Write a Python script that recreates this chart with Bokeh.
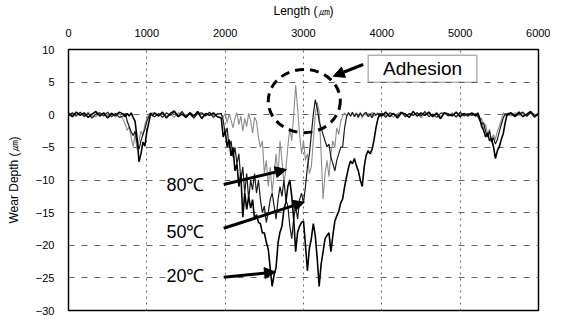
from bokeh.plotting import figure
from bokeh.models import Arrow, NormalHead, Label, BoxAnnotation, FixedTicker
from bokeh.embed import file_html
from bokeh.resources import INLINE

# ---------------- data ----------------
# sampling positions (µm), segment by segment
xA = list(range(0, 700, 50))
xB = list(range(700, 1100, 25))
xC = list(range(1100, 1950, 50))
xD = list(range(1950, 4000, 25))
xE = list(range(4000, 5200, 50))
xF = list(range(5200, 5625, 25))
xG = list(range(5650, 6001, 50))

# 20 C profile (deepest, black)
y20_A = [0.2, -0.3, 0.4, -0.1, 0.3, -0.4, 0.1, 0.5, -0.2, 0.3, -0.5, 0.2, -0.1, 0.4]
y20_B = [0.1, -0.3, 0.2, -0.2, 0.3, -0.4, -1.0, -3.5, -7.2, -6.0, -4.2, -4.8, -2.6, -1.2, 0.2, -0.1]
y20_C = [0.3, -0.2, 0.4, -0.5, 0.2, 0.6, -0.3, 0.1, -0.4, 0.3, -0.2, 0.5, -0.6, 0.2, -0.1, 0.3, -0.3]
y20_D = [-0.5, -3.4, -2.5, -4.9, -3.8, -6.3, -5.0, -8.6, -7.5, -11.0,
         -9.0, -15.7, -12.0, -14.5, -12.5, -14.3, -13.0, -16.0, -15.3, -16.5,
         -16.7, -18.1, -18.1, -19.5, -20.6, -23.5, -26.3, -24.5, -23.4, -19.6,
         -18.0, -17.1, -14.5, -13.4, -11.0, -10.0, -12.5, -16.0, -21.0, -18.0,
         -17.1, -16.5, -16.3, -20.0, -23.9, -20.5, -19.0, -16.7, -18.5, -22.0,
         -26.3, -22.9, -21.0, -19.0, -18.5, -18.1, -21.0, -18.5, -16.3, -15.5,
         -14.8, -13.5, -12.9, -11.0, -9.5, -8.1, -7.1, -7.5, -6.7, -7.8,
         -8.6, -10.0, -11.0, -8.0, -6.2, -5.5, -6.0, -5.3, -3.9, -2.0,
         -0.6, 0.2]
y20_E = [-0.2, 0.4, -0.3, 0.2, -0.5, 0.3, 0.1, -0.4, 0.5, -0.2, 0.3, -0.1,
         0.4, -0.3, 0.2, -0.6, 0.3, 0.1, -0.2, 0.4, -0.3, 0.2, -0.1, 0.3]
y20_F = [-0.2, 0.3, -0.5, -1.8, -2.4, -3.4, -2.8, -4.0, -3.6, -4.9, -6.7, -5.5, -4.9, -3.8, -2.9, -1.2, 0.1]
y20_G = [0.3, -0.2, 0.4, -0.3, 0.1, 0.5, -0.2, 0.2]

# 50 C profile (black, thinner)
y50_A = [-0.2, 0.3, -0.1, 0.4, -0.3, 0.2, -0.5, 0.1, 0.3, -0.2, 0.4, -0.3, 0.2, -0.4]
y50_B = [-0.2, 0.2, -1.0, -1.8, -2.6, -3.2, -2.5, -4.2, -5.3, -4.0, -3.0, -2.2, -1.0, -0.3, 0.3, -0.2]
y50_C = [-0.3, 0.2, -0.4, 0.3, -0.1, 0.4, -0.2, 0.5, -0.3, 0.1, -0.5, 0.2, 0.3, -0.2, 0.4, -0.4, 0.1]
y50_D = [0.2, -0.8, -3.0, -2.0, -5.0, -4.0, -6.5, -5.0, -7.5, -6.0,
         -10.0, -8.0, -12.0, -9.0, -13.0, -10.0, -11.5, -9.0, -12.0, -10.0,
         -13.0, -15.0, -14.0, -16.5, -15.0, -13.0, -12.0, -14.0, -16.0, -13.0,
         -11.0, -12.5, -10.0, -13.0, -14.0, -17.0, -19.0, -16.0, -14.0, -16.0,
         -13.0, -12.0, -13.5, -11.0, -8.0, -6.0, -3.0, 0.0, 2.3, 1.0,
         -1.0, -2.0, -3.0, -4.0, -4.9, -4.5, -6.5, -7.5, -8.6, -7.0,
         -6.0, -5.0, -4.9, -2.0, -0.3, 0.3, -0.2, 0.4, -0.3, 0.2,
         -0.4, 0.3, -0.2, 0.1, 0.4, -0.3, 0.2, -0.5, 0.3, -0.1,
         0.2, -0.3]
y50_E = [0.2, -0.4, 0.3, 0.1, -0.2, 0.4, -0.3, 0.2, -0.1, 0.3, -0.2, 0.5,
         -0.3, 0.1, -0.4, 0.2, 0.3, -0.2, 0.1, -0.3, 0.4, -0.2, 0.2, -0.1]
y50_F = [0.1, -0.2, -0.8, -1.5, -1.2, -2.6, -3.4, -2.5, -4.2, -3.5, -4.5, -3.8, -2.6, -1.5, -0.5, 0.2, -0.1]
y50_G = [0.2, -0.3, 0.1, 0.4, -0.2, 0.3, -0.4, 0.1]

# 80 C profile (grey, shows adhesion peaks)
y80_A = [0.1, 0.2, -0.3, 0.3, -0.2, 0.4, -0.1, -0.3, 0.2, 0.1, -0.2, 0.3, -0.4, 0.2]
y80_B = [-0.8, -1.5, -2.4, -1.8, -3.5, -4.9, -3.0, -5.3, -4.0, -2.5, -3.2, -1.5, -0.6, 0.2, -0.1, 0.3]
y80_C = [0.2, -0.1, 0.3, -0.2, 0.1, -0.4, 0.3, 0.2, -0.3, 0.4, -0.1, 0.2, -0.5, 0.1, 0.3, -0.2, 0.2]
y80_D = [0.1, -0.4, 0.2, -1.2, 0.1, -0.8, -2.0, -0.5, 0.3, -1.5,
         -0.2, -2.5, -0.6, -1.8, 0.2, -0.9, -2.8, -0.4, -1.0, -3.5,
         -5.0, -4.0, -9.0, -7.0, -11.0, -8.0, -12.0, -9.0, -6.0, -9.5,
         -4.0, -7.0, -10.5, -8.4, -5.0, -2.0, -4.0, 0.0, 4.5, 1.0,
         -3.0, -6.0, -4.0, -7.0, -6.0, -9.0, -8.0, -4.0, 0.0, 1.9,
         0.5, -6.0, -12.9, -9.0, -7.0, -9.5, -6.0, -4.0, -5.0, -2.0,
         -3.0, -1.0, -0.2, 0.3, -0.2, 0.4, -0.3, 0.2, -0.1, 0.3,
         -0.4, 0.2, -0.5, 0.3, -0.1, 0.2, -0.3, 0.4, -0.2, 0.1,
         0.3, -0.2]
y80_E = [0.3, -0.2, 0.1, -0.4, 0.2, 0.4, -0.3, 0.2, -0.1, 0.3, -0.5, 0.2,
         0.1, -0.2, 0.4, -0.3, 0.2, -0.1, 0.3, -0.4, 0.2, 0.1, -0.3, 0.2]
y80_F = [0.2, -0.3, -1.0, -0.5, -2.2, -1.5, -3.0, -2.2, -4.0, -3.0, -3.8, -2.5, -1.8, -0.8, 0.3, -0.2, 0.2]
y80_G = [-0.2, 0.3, -0.1, 0.2, -0.3, 0.4, 0.1, -0.2]

x_ticks = [0, 1000, 2000, 3000, 4000, 5000, 6000]
y_ticks = [10, 5, 0, -5, -10, -15, -20, -25, -30]
temp_labels = ["80℃", "50℃", "20℃"]
adhesion_label = "Adhesion"

X = xA + xB + xC + xD + xE + xF + xG
Y20 = y20_A + y20_B + y20_C + y20_D + y20_E + y20_F + y20_G
Y50 = y50_A + y50_B + y50_C + y50_D + y50_E + y50_F + y50_G
Y80 = y80_A + y80_B + y80_C + y80_D + y80_E + y80_F + y80_G
assert len(X) == len(Y20) == len(Y50) == len(Y80), (len(X), len(Y20), len(Y50), len(Y80))

FONT = "Liberation Sans"

p = figure(width=550, height=319, x_range=(0, 6000), y_range=(-30, 10),
           x_axis_location="above", output_backend="svg", toolbar_location=None,
           min_border_left=68, min_border_right=12, min_border_top=44, min_border_bottom=9)
p.background_fill_color = "white"
p.border_fill_color = "white"
p.outline_line_color = "black"
p.outline_line_width = 1.5

# grid
p.xaxis.ticker = FixedTicker(ticks=x_ticks)
p.yaxis.ticker = FixedTicker(ticks=y_ticks)
p.xgrid.grid_line_color = "#666666"
p.xgrid.grid_line_dash = "2 4"
p.xgrid.grid_line_width = 1
p.ygrid.grid_line_color = "#666666"
p.ygrid.grid_line_dash = "6 7"
p.ygrid.grid_line_width = 1

for ax in (p.xaxis, p.yaxis):
    ax.axis_line_color = None
    ax.major_tick_line_color = None
    ax.minor_tick_line_color = None
    ax.major_label_text_font = FONT
    ax.major_label_text_font_size = "11px"
    ax.major_label_text_color = "black"
    ax.axis_label_text_font = FONT
    ax.axis_label_text_font_size = "12px"
    ax.axis_label_text_font_style = "normal"
    ax.axis_label_text_color = "black"

p.xaxis.axis_label = "Length (㎛)"
p.yaxis.axis_label = "Wear Depth (㎛)"
p.xaxis.major_label_standoff = 7
p.xaxis.axis_label_standoff = 8
p.yaxis.major_label_standoff = 8
p.yaxis.axis_label_standoff = 12
p.yaxis.major_label_overrides = {t: ("\u2212" + str(-t) if t < 0 else str(t)) for t in y_ticks}

# profiles
p.line(X, Y80, line_color="#8c8c8c", line_width=1.1)
p.line(X, Y50, line_color="#1a1a1a", line_width=1.2)
p.line(X, Y20, line_color="black", line_width=1.6)

# adhesion circle
circ_x, circ_y, circ_w, circ_h = 3010, 2.1, 920, 9.7
p.ellipse(x=[circ_x], y=[circ_y], width=circ_w, height=circ_h,
          fill_color=None, line_color="black", line_width=3, line_dash="9 6")

# adhesion box + label + arrow
p.add_layout(BoxAnnotation(left=3826, right=5214, bottom=5.0, top=9.1,
                           fill_color="white", fill_alpha=1.0,
                           line_color="black", line_width=1.5))
p.add_layout(Label(x=4520, y=7.05, text=adhesion_label, text_align="center",
                   text_baseline="middle", text_font=FONT, text_font_size="19px",
                   text_color="black"))
p.add_layout(Arrow(end=NormalHead(size=11, fill_color="black", line_color="black"),
                   x_start=3762, y_start=7.7, x_end=3380, y_end=5.9,
                   line_width=3, line_color="black"))

# temperature labels and arrows
label_y = [-10.7, -17.9, -24.7]
arrow_start_y = [-10.7, -17.4, -24.9]
arrow_end = [(2781, -8.4), (3010, -13.4), (2643, -24.1)]
for t, ly, sy, (ex, ey) in zip(temp_labels, label_y, arrow_start_y, arrow_end):
    p.add_layout(Label(x=1250, y=ly, text=t, text_align="left", text_baseline="middle",
                       text_font=FONT, text_font_size="18px", text_color="black",
                       background_fill_color="white", background_fill_alpha=1.0))
    p.add_layout(Arrow(end=NormalHead(size=11, fill_color="black", line_color="black"),
                       x_start=1981, y_start=sy, x_end=ex, y_end=ey,
                       line_width=3, line_color="black"))

open("out.html", "w").write(file_html(p, INLINE))
